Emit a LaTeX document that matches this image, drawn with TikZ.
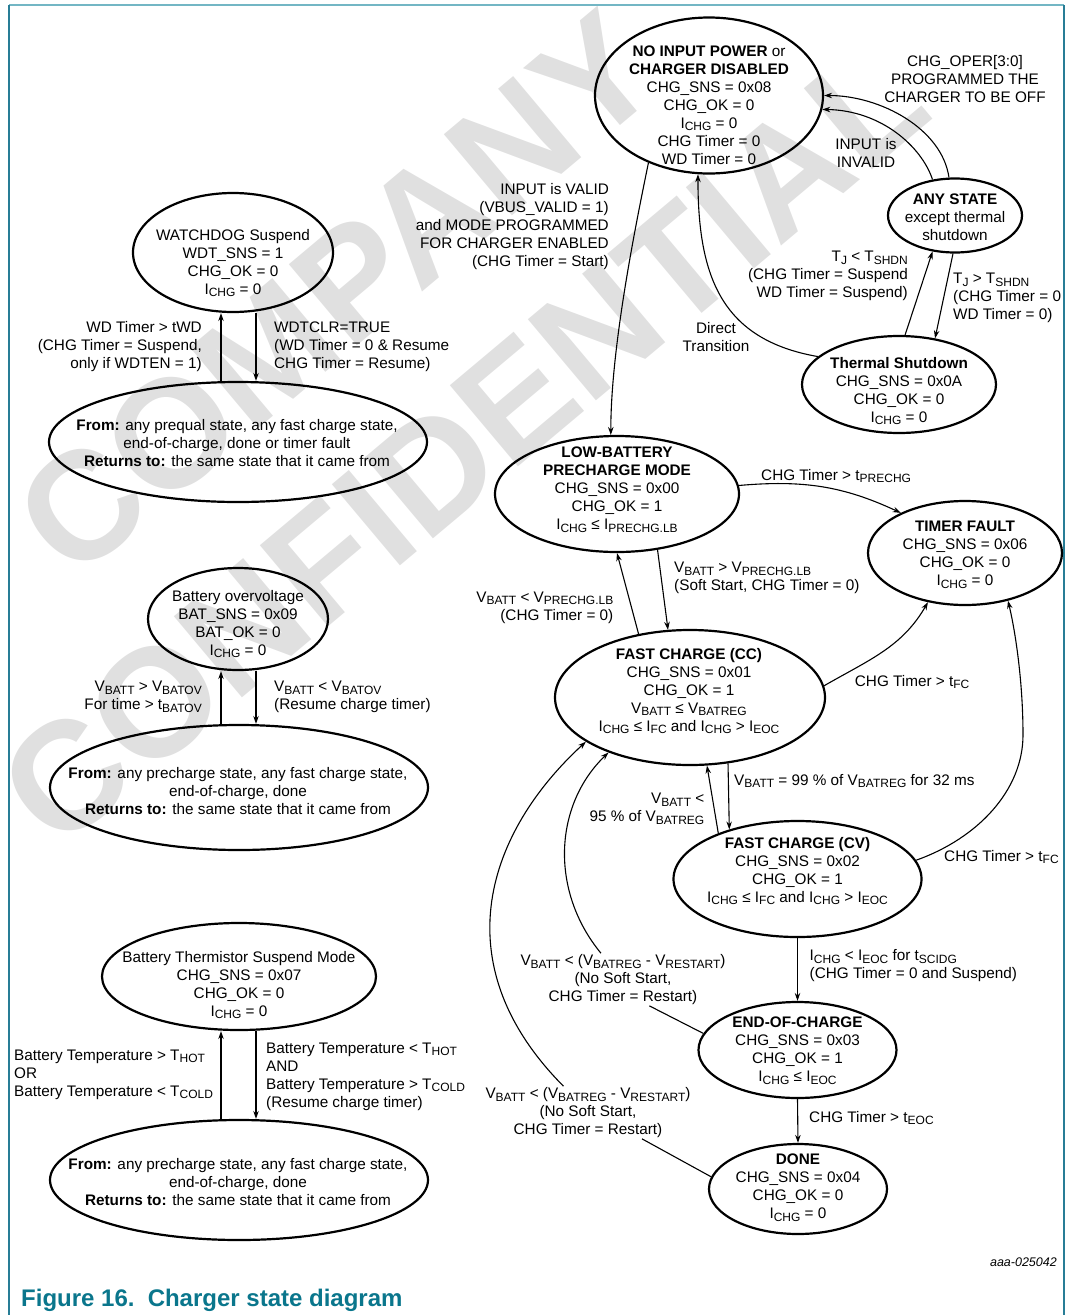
\documentclass[tikz,border=0pt]{standalone}
\usepackage{fontspec}
\setmainfont{Liberation Sans}
\usetikzlibrary{shapes.geometric,arrows.meta,calc}
\definecolor{frameC}{RGB}{40,125,150}
\definecolor{frameTop}{RGB}{115,182,196}
\definecolor{titleC}{RGB}{10,118,140}
\definecolor{wmC}{RGB}{224,224,224}
\newcommand\sbs[1]{\raisebox{-2.6pt}{\fontsize{12}{12}\selectfont #1}}
\tikzset{
  st/.style={ellipse, draw, line width=2.2pt, inner sep=0pt},
  tx/.style={font=\fontsize{15.3}{18}\selectfont, align=center, inner sep=0pt},
  lbl/.style={font=\fontsize{15.3}{18}\selectfont, inner sep=1pt},
  conn/.style={line width=1.1pt},
  arr/.style={conn, -{Stealth[length=8pt,width=5.5pt]}},
}
\begin{document}
\begin{tikzpicture}[x=1pt,y=1pt]
\useasboundingbox (0,0) rectangle (1071,-1315);
% watermark
\node[font=\bfseries\fontsize{154}{196}\selectfont, text=wmC, rotate=40, align=center, inner sep=0pt] (wm) at (400,-369) {COMPANY\\CONFIDENTIAL};
% frame
\draw[frameTop, line width=2pt] (9,-5) -- (1064,-5);
\draw[frameC, line width=1.2pt] (9,-5) -- (9,-1315) (1064,-5) -- (1064,-1315);

% ---- ellipses
\node[st, minimum width=228pt, minimum height=156pt] (ni) at (709,-95.5) {};
\node[st, minimum width=134pt, minimum height=74pt] (any) at (955,-215.5) {};
\node[st, minimum width=194pt, minimum height=97pt] (ts) at (899,-384.5) {};
\node[st, minimum width=200pt, minimum height=119pt] (wd) at (233,-252.5) {};
\node[st, minimum width=378pt, minimum height=120pt] (wdf) at (238,-442) {};
\node[st, minimum width=180pt, minimum height=102pt] (ov) at (238,-619) {};
\node[st, minimum width=378pt, minimum height=125pt] (ovf) at (239,-787.5) {};
\node[st, minimum width=274pt, minimum height=107pt] (th) at (239,-976.5) {};
\node[st, minimum width=378pt, minimum height=120pt] (thf) at (239,-1180) {};
\node[st, minimum width=244pt, minimum height=116pt] (lb) at (617,-494) {};
\node[st, minimum width=194pt, minimum height=104pt] (tf) at (965,-553) {};
\node[st, minimum width=270pt, minimum height=135pt] (cc) at (690,-697.5) {};
\node[st, minimum width=248pt, minimum height=116pt] (cv) at (797.5,-879) {};
\node[st, minimum width=198pt, minimum height=96pt] (eoc) at (797.5,-1050) {};
\node[st, minimum width=178pt, minimum height=90pt] (done) at (798,-1189) {};

% ---- state texts
\node[tx] (ni-t) at (709,-105) {\textbf{NO INPUT POWER} or\\\textbf{CHARGER DISABLED}\\CHG\_SNS = 0x08\\CHG\_OK = 0\\I\sbs{CHG} = 0\\CHG Timer = 0\\WD Timer = 0};
\node[tx] (any-t) at (955,-217) {\textbf{ANY STATE}\\except thermal\\shutdown};
\node[tx] (ts-t) at (899,-391) {\textbf{Thermal Shutdown}\\CHG\_SNS = 0x0A\\CHG\_OK = 0\\I\sbs{CHG} = 0};
\node[tx] (wd-t) at (233,-263) {WATCHDOG Suspend\\WDT\_SNS = 1\\CHG\_OK = 0\\I\sbs{CHG} = 0};
\node[tx] (wdf-t) at (237,-443) {\textbf{From:} any prequal state, any fast charge state,\\end-of-charge, done or timer fault\\\textbf{Returns to:} the same state that it came from};
\node[tx] (ov-t) at (238,-624) {Battery overvoltage\\BAT\_SNS = 0x09\\BAT\_OK = 0\\I\sbs{CHG} = 0};
\node[tx] (ovf-t) at (238,-791) {\textbf{From:} any precharge state, any fast charge state,\\end-of-charge, done\\\textbf{Returns to:} the same state that it came from};
\node[tx] (th-t) at (239,-985) {Battery Thermistor Suspend Mode\\CHG\_SNS = 0x07\\CHG\_OK = 0\\I\sbs{CHG} = 0};
\node[tx] (thf-t) at (238,-1182) {\textbf{From:} any precharge state, any fast charge state,\\end-of-charge, done\\\textbf{Returns to:} the same state that it came from};
\node[tx] (lb-t) at (617,-490) {\textbf{LOW-BATTERY}\\\textbf{PRECHARGE MODE}\\CHG\_SNS = 0x00\\CHG\_OK = 1\\I\sbs{CHG} ≤ I\sbs{PRECHG.LB}};
\node[tx] (tf-t) at (965,-555) {\textbf{TIMER FAULT}\\CHG\_SNS = 0x06\\CHG\_OK = 0\\I\sbs{CHG} = 0};
\node[tx] (cc-t) at (689,-691) {\textbf{FAST CHARGE (CC)}\\CHG\_SNS = 0x01\\CHG\_OK = 1\\V\sbs{BATT} ≤ V\sbs{BATREG}\\I\sbs{CHG} ≤ I\sbs{FC} and I\sbs{CHG} > I\sbs{EOC}};
\node[tx] (cv-t) at (797.5,-871) {\textbf{FAST CHARGE (CV)}\\CHG\_SNS = 0x02\\CHG\_OK = 1\\I\sbs{CHG} ≤ I\sbs{FC} and I\sbs{CHG} > I\sbs{EOC}};
\node[tx] (eoc-t) at (797.5,-1051) {\textbf{END-OF-CHARGE}\\CHG\_SNS = 0x03\\CHG\_OK = 1\\I\sbs{CHG} ≤ I\sbs{EOC}};
\node[tx] (done-t) at (798,-1188) {\textbf{DONE}\\CHG\_SNS = 0x04\\CHG\_OK = 0\\I\sbs{CHG} = 0};

% ---- labels
\node[lbl, align=center] (l-oper) at (965,-79.5) {CHG\_OPER[3:0]\\PROGRAMMED THE\\CHARGER TO BE OFF};
\node[lbl, align=center] (l-inv) at (866,-153) {INPUT is\\INVALID};
\node[lbl, align=right, anchor=east] (l-valid) at (610,-226.5) {INPUT is VALID\\(VBUS\_VALID = 1)\\and MODE PROGRAMMED\\FOR CHARGER ENABLED\\(CHG Timer = Start)};
\node[lbl, align=right, anchor=east] (l-tjlt) at (909,-276) {T\sbs{J} < T\sbs{SHDN}\\(CHG Timer = Suspend\\WD Timer = Suspend)};
\node[lbl, align=left, anchor=west] (l-tjgt) at (952,-298) {T\sbs{J} > T\sbs{SHDN}\\(CHG Timer = 0\\WD Timer = 0)};
\node[lbl, align=center] (l-direct) at (716,-337) {Direct\\Transition};
\node[lbl, align=right, anchor=east] (l-wdup) at (203,-346.5) {WD Timer > tWD\\(CHG Timer = Suspend,\\only if WDTEN = 1)};
\node[lbl, align=left, anchor=west] (l-wddn) at (273,-346.5) {WDTCLR=TRUE\\(WD Timer = 0 \& Resume\\CHG Timer = Resume)};
\node[lbl, align=right, anchor=east] (l-ovup) at (203,-697) {V\sbs{BATT} > V\sbs{BATOV}\\For time > t\sbs{BATOV}};
\node[lbl, align=left, anchor=west] (l-ovdn) at (273,-697) {V\sbs{BATT} < V\sbs{BATOV}\\(Resume charge timer)};
\node[lbl, align=left, anchor=west] (l-thup) at (13,-1074.5) {Battery Temperature > T\sbs{HOT}\\OR\\Battery Temperature < T\sbs{COLD}};
\node[lbl, align=left, anchor=west] (l-thdn) at (265,-1076.5) {Battery Temperature < T\sbs{HOT}\\AND\\Battery Temperature > T\sbs{COLD}\\(Resume charge timer)};
\node[lbl, anchor=west] (l-pre) at (760,-476) {CHG Timer > t\sbs{PRECHG}};
\node[lbl, align=right, anchor=east] (l-lbup) at (614.5,-607.5) {V\sbs{BATT} < V\sbs{PRECHG.LB}\\(CHG Timer = 0)};
\node[lbl, align=left, anchor=west] (l-lbdn) at (673,-578) {V\sbs{BATT} > V\sbs{PRECHG.LB}\\(Soft Start, CHG Timer = 0)};
\node[lbl, anchor=west] (l-fc1) at (853.7,-682) {CHG Timer > t\sbs{FC}};
\node[lbl, anchor=west] (l-99) at (733,-781) {V\sbs{BATT} = 99 \% of V\sbs{BATREG} for 32 ms};
\node[lbl, align=right, anchor=east] (l-95) at (705.5,-808.5) {V\sbs{BATT} <\\95 \% of V\sbs{BATREG}};
\node[lbl, anchor=west] (l-fc2) at (943,-857) {CHG Timer > t\sbs{FC}};
\node[lbl, align=left, anchor=west] (l-eoc) at (808.5,-966) {I\sbs{CHG} < I\sbs{EOC} for t\sbs{SCIDG}\\(CHG Timer = 0 and Suspend)};
\node[lbl, align=center, fill=white] (l-rs1) at (623,-979.5) {V\sbs{BATT} < (V\sbs{BATREG} - V\sbs{RESTART})\\(No Soft Start,\\CHG Timer = Restart)};
\node[lbl, align=center, fill=white] (l-rs2) at (588,-1112.5) {V\sbs{BATT} < (V\sbs{BATREG} - V\sbs{RESTART})\\(No Soft Start,\\CHG Timer = Restart)};
\node[lbl, anchor=west] (l-teoc) at (808,-1118) {CHG Timer > t\sbs{EOC}};

% ---- connectors
\draw[arr] (ni.228) .. controls +(-14,-68) and +(0,86) .. (lb.96);
\draw[arr] (any.99) .. controls +(-7,49) and +(56,0) .. (ni.0);
\draw[arr] (any.122) .. controls +(-11,33) and +(59,-1) .. (ni.-7);
\draw[arr] (ts.83) -- (any.-122);
\draw[arr] (any.-93) -- (ts.52);
\draw[arr] (ts.161) .. controls +(-97,17) and +(0,-102) .. (ni.-98);
\draw[arr] ([xshift=-17pt]wdf.north) -- ([xshift=-12pt]wd.south);
\draw[arr] ([xshift=23pt]wd.south) -- ([xshift=18pt]wdf.north);
\draw[arr] ([xshift=-18pt]ovf.north) -- ([xshift=-17pt]ov.south);
\draw[arr] ([xshift=18pt]ov.south) -- ([xshift=17pt]ovf.north);
\draw[arr] ([xshift=-18pt]thf.north) -- ([xshift=-18pt]th.south);
\draw[arr] ([xshift=17pt]th.south) -- ([xshift=17pt]thf.north);
\draw[arr] (lb.4) to[out=5,in=155] (tf.148);
\draw[arr] (cc.129) -- (lb.-90);
\draw[arr] (lb.-54) -- (cc.108);
\draw[arr] (cc.5) to[out=30,in=-120] (tf.-127);
\draw[arr] (cv.9) .. controls +(62,22) and +(0,-55) .. (1023,-735) .. controls +(0,55) and +(7,-29) .. (tf.-48);
\draw[arr] (cc.-60) -- (cv.144);
\draw[arr] (cv.150) -- (cc.-76);
\draw[arr] (cv.south) -- (eoc.north);
\draw[arr] (eoc.south) -- (done.north);
\draw[conn] (eoc.170) -- (l-rs1.-45);
\draw[arr] (l-rs1.130) .. controls +(-51,62) and +(-55,-53) .. (cc.-146);
\draw[conn] (done.172) -- (l-rs2.-26);
\draw[arr] (l-rs2.133) .. controls +(-123,124) and +(-97,-89) .. (cc.-157);

% ---- title and code
\node[anchor=base west, font=\bfseries\fontsize{24}{28}\selectfont, text=titleC, inner sep=0pt] (title) at (21,-1306) {Figure 16.\hspace{0.55em}Charger state diagram};
\node[anchor=east, font=\itshape\fontsize{12.5}{14}\selectfont, inner sep=0pt] (code) at (1057,-1262) {aaa-025042};
\end{tikzpicture}
\end{document}
